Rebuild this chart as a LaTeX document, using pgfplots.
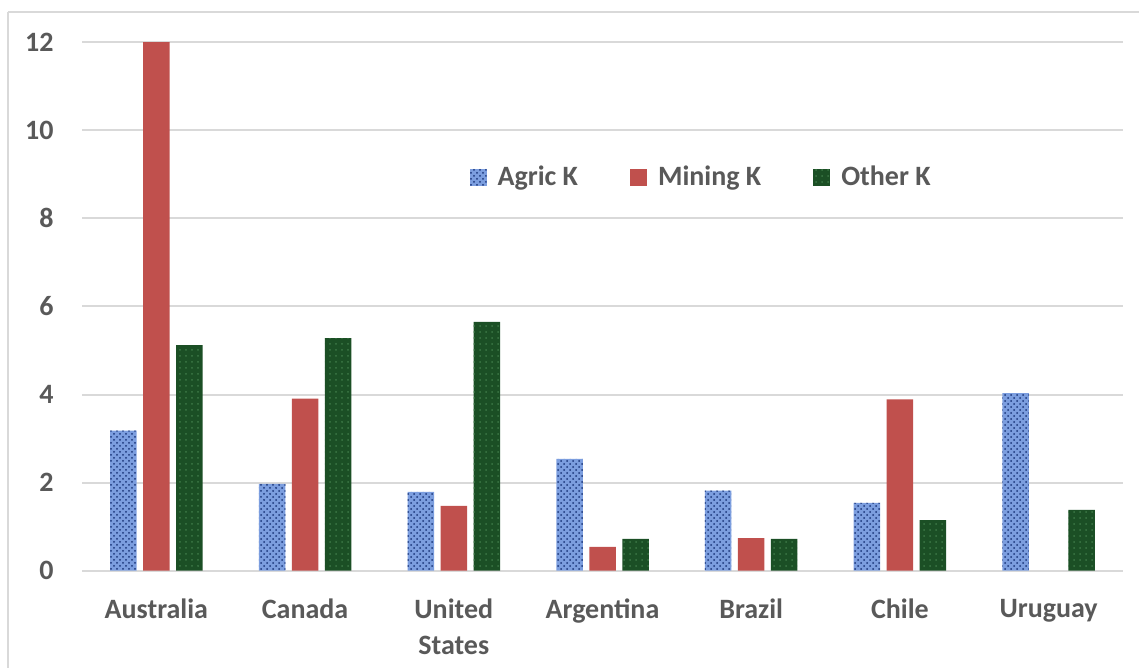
\documentclass[border=0pt]{standalone}
\usepackage{pgfplots}
\pgfplotsset{compat=1.18}
\usetikzlibrary{patterns}
\usepackage{fontspec}
\setmainfont{Carlito}
\definecolor{txt}{HTML}{595959}
\definecolor{gridc}{HTML}{D9D9D9}
\definecolor{agric}{HTML}{7C9EDF}
\definecolor{agricdot}{HTML}{1A357A}
\definecolor{mining}{HTML}{C0504D}
\definecolor{other}{HTML}{1B4F25}
\definecolor{otherdot}{HTML}{3D7846}
\begin{document}
\begin{tikzpicture}
\path[use as bounding box] (0,0) rectangle (569.5pt,-334pt);
\draw[gridc, line width=1pt] (4pt,-6pt) -- (4pt,-345pt);
\draw[gridc, line width=1pt] (4pt,-6pt) -- (580pt,-6pt);
\begin{axis}[
  at={(41pt,-285.35pt)}, anchor=south west,
  scale only axis, width=520.5pt, height=264.25pt,
  ybar=3.25pt, bar width=13.25pt,
  xmin=-0.5, xmax=6.5, ymin=0, ymax=12,
  xtick=data,
  xticklabels={Australia,Canada,{United\\States},Argentina,Brazil,Chile,Uruguay},
  ytick={0,2,4,6,8,10,12},
  axis line style={draw=none},
  major tick length=0pt,
  ymajorgrids=true, xmajorgrids=false,
  y grid style={draw=gridc, line width=1pt},
  tick label style={font=\fontsize{14}{18}\selectfont\bfseries, text=txt},
  /pgf/number format/assume math mode=true,
  xticklabel style={anchor=north, inner sep=0pt, align=center, yshift=-14pt},
  yticklabel style={anchor=east, inner sep=0pt, xshift=-14pt},
  legend style={at={(axis cs:3.67,8.93)}, anchor=center, draw=none, fill=none,
    font=\fontsize{14}{18}\selectfont\bfseries, text=txt,
    legend columns=3, inner sep=0pt,
    /tikz/every odd column/.append style={column sep=3.5pt},
    /tikz/every even column/.append style={column sep=24pt}},
  legend image code/.code={\draw[#1, draw=none] (0pt,-4.25pt) rectangle (8.5pt,4.25pt);},
  clip=false,
]
\addplot[fill=agric, draw=none, postaction={pattern=crosshatch dots, pattern color=agricdot}] coordinates {
 (0,3.18) (1,1.97) (2,1.79) (3,2.54) (4,1.82) (5,1.54) (6,4.03)};
\addplot[fill=mining, draw=none] coordinates {
 (0,12) (1,3.91) (2,1.47) (3,0.54) (4,0.74) (5,3.89)};
\addplot[fill=other, draw=none, postaction={pattern=dots, pattern color=otherdot}] coordinates {
 (0,5.12) (1,5.28) (2,5.65) (3,0.72) (4,0.72) (5,1.15) (6,1.38)};
\legend{Agric K, Mining K, Other K}
\end{axis}
\end{tikzpicture}
\end{document}
